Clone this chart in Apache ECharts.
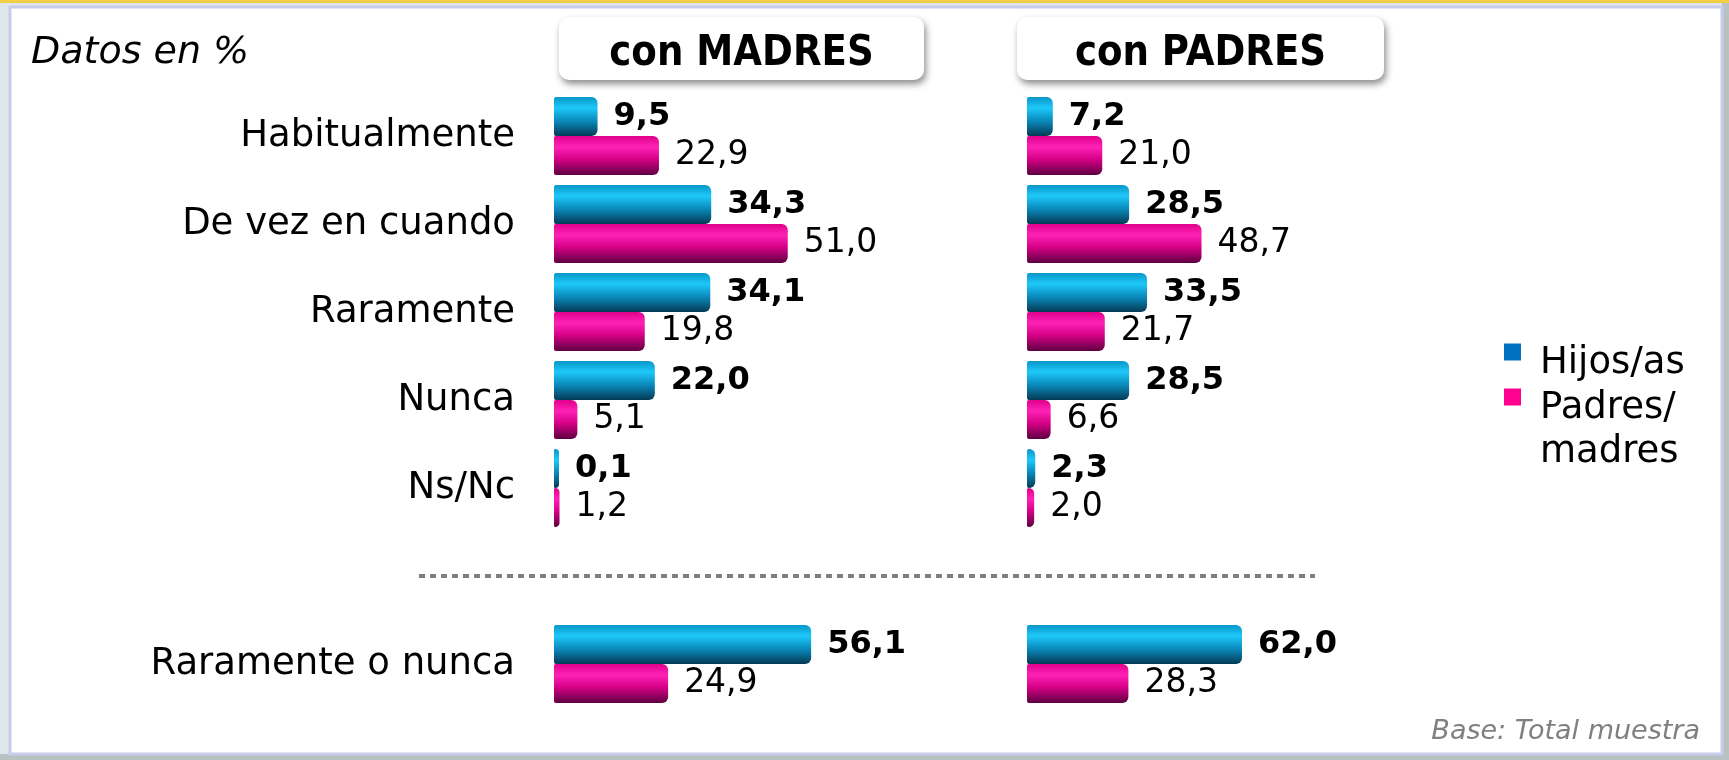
<!DOCTYPE html>
<html>
<head>
<meta charset="utf-8">
<script src="https://cdn.jsdelivr.net/npm/echarts@6/dist/echarts.min.js"></script>
<style>
  html, body { margin: 0; padding: 0; background: #dde6ea; }
  #chart { width: 1729px; height: 760px; }
</style>
</head>
<body>
<div id="chart"></div>
<script>
(function() {
  var font = 'DejaVu Sans, Verdana, sans-serif';

  // ── data ──
  var categories = ['Habitualmente', 'De vez en cuando', 'Raramente', 'Nunca', 'Ns/Nc', '', 'Raramente o nunca'];
  var madresHijos = [9.5, 34.3, 34.1, 22.0, 0.1, null, 56.1];
  var madresPadres = [22.9, 51.0, 19.8, 5.1, 1.2, null, 24.9];
  var padresHijos = [7.2, 28.5, 33.5, 28.5, 2.3, null, 62.0];
  var padresPadres = [21.0, 48.7, 21.7, 6.6, 2.0, null, 28.3];
  var panelTitles = ['con MADRES', 'con PADRES'];

  var blueFill = new echarts.graphic.LinearGradient(0, 0, 0, 1, [
    { offset: 0, color: '#0a96c8' },
    { offset: 0.28, color: '#1ec8fa' },
    { offset: 0.6, color: '#0a8cbe' },
    { offset: 1, color: '#053a55' }
  ]);
  var pinkFill = new echarts.graphic.LinearGradient(0, 0, 0, 1, [
    { offset: 0, color: '#e0008a' },
    { offset: 0.28, color: '#ff22b6' },
    { offset: 0.6, color: '#d40086' },
    { offset: 1, color: '#5e0040' }
  ]);

  function fmt(p) { return p.value == null ? '' : p.value.toFixed(1).replace('.', ','); }

  function barSeries(name, data, gi, fill, bold) {
    return {
      name: name, type: 'bar', data: data,
      xAxisIndex: gi, yAxisIndex: gi,
      barWidth: 39, barGap: '0%', barMinHeight: 5,
      itemStyle: { color: fill, borderRadius: [2, 6, 6, 2] },
      label: {
        show: true, position: 'right', distance: 16, formatter: fmt,
        fontFamily: font, fontSize: bold ? 32 : 33, color: '#000',
        fontWeight: bold ? 'bold' : 'normal'
      }
    };
  }

  var chart = echarts.init(document.getElementById('chart'), null, { renderer: 'canvas' });

  function headerBox(x, w, text) {
    return {
      type: 'group', z: 10,
      children: [
        { type: 'rect', shape: { x: x, y: 17, width: w, height: 63, r: 10 },
          style: { fill: '#fff', shadowBlur: 7, shadowOffsetX: 2, shadowOffsetY: 4, shadowColor: 'rgba(0,0,0,0.45)' } },
        { type: 'text', x: x + w / 2, y: 54, scaleX: 0.885,
          style: { text: text, fontFamily: font, fontSize: 42, fontWeight: 'bold', fill: '#000',
            align: 'center', verticalAlign: 'middle', textAlign: 'center', textVerticalAlign: 'middle' } }
      ]
    };
  }

  var legendRich = {
    s: { fontSize: 10, lineHeight: 22 },
    s2: { fontSize: 10, lineHeight: 66 },
    t: { fontFamily: font, fontSize: 37, lineHeight: 44, color: '#000' }
  };

  chart.setOption({
    animation: false,
    backgroundColor: '#dde6ea',
    title: [
      { text: 'Datos en %', left: 31, top: 34, padding: 0,
        textStyle: { fontFamily: font, fontSize: 38, fontStyle: 'italic', fontWeight: 'normal', color: '#000' } },
      { text: 'Base: Total muestra', right: 29, top: 718, padding: 0,
        textStyle: { fontFamily: font, fontSize: 27, fontStyle: 'italic', fontWeight: 'normal', color: '#808080' } }
    ],
    legend: [
      { data: [{ name: 'Hijos/as', itemStyle: { color: '#0070c0' } }],
        orient: 'vertical', left: 1504, top: 325, padding: 0, icon: 'rect',
        itemWidth: 17, itemHeight: 17,
        formatter: function(n) { return '{s| }\n{t|' + n + '}'; },
        textStyle: { padding: [0, 0, 0, 14], rich: legendRich } },
      { data: [{ name: 'Padres/madres', itemStyle: { color: '#ff0090' } }],
        orient: 'vertical', left: 1504, top: 348, padding: 0, icon: 'rect',
        itemWidth: 17, itemHeight: 17,
        formatter: function() { return '{s2| }\n{t|Padres/}\n{t|madres}'; },
        textStyle: { padding: [0, 0, 0, 14], rich: legendRich } }
    ],
    grid: [
      { left: 554, top: 92, width: 275, height: 616 },
      { left: 1027, top: 92, width: 215, height: 616 }
    ],
    xAxis: [
      { gridIndex: 0, type: 'value', min: 0, max: 60, show: false },
      { gridIndex: 1, type: 'value', min: 0, max: 60, show: false }
    ],
    yAxis: [
      { gridIndex: 0, type: 'category', data: categories, inverse: true,
        axisLine: { show: false }, axisTick: { show: false },
        axisLabel: { fontFamily: font, fontSize: 37, color: '#000', margin: 39 } },
      { gridIndex: 1, type: 'category', data: categories, inverse: true, show: false }
    ],
    series: [
      barSeries('Hijos/as', madresHijos, 0, blueFill, true),
      barSeries('Padres/madres', madresPadres, 0, pinkFill, false),
      barSeries('Hijos/as', padresHijos, 1, blueFill, true),
      barSeries('Padres/madres', padresPadres, 1, pinkFill, false)
    ]
  });

  // separator sits on the empty category slot
  var sepY = chart.convertToPixel({ yAxisIndex: 0 }, 5);

  chart.setOption({
    graphic: [
      { type: 'rect', z: -10, shape: { x: 0, y: 0, width: 1729, height: 3 }, style: { fill: '#f0cf45' } },
      { type: 'rect', z: -10, shape: { x: 1722, y: 3, width: 7, height: 757 }, style: { fill: '#b7c3c3' } },
      { type: 'rect', z: -10, shape: { x: 0, y: 754, width: 1729, height: 6 }, style: { fill: '#b7c3c3' } },
      { type: 'rect', z: -9, shape: { x: 10, y: 7, width: 1712, height: 747 },
        style: { fill: '#fff', stroke: '#c9cbea', lineWidth: 3 } },
      headerBox(559, 365, panelTitles[0]),
      headerBox(1017, 367, panelTitles[1]),
      { type: 'line', z: 5, shape: { x1: 419, y1: sepY, x2: 1315, y2: sepY },
        style: { stroke: '#7f7f7f', lineWidth: 4, lineDash: [6, 5] } }
    ]
  });

  window.addEventListener('resize', function() { chart.resize(); });
})();
</script>
</body>
</html>
